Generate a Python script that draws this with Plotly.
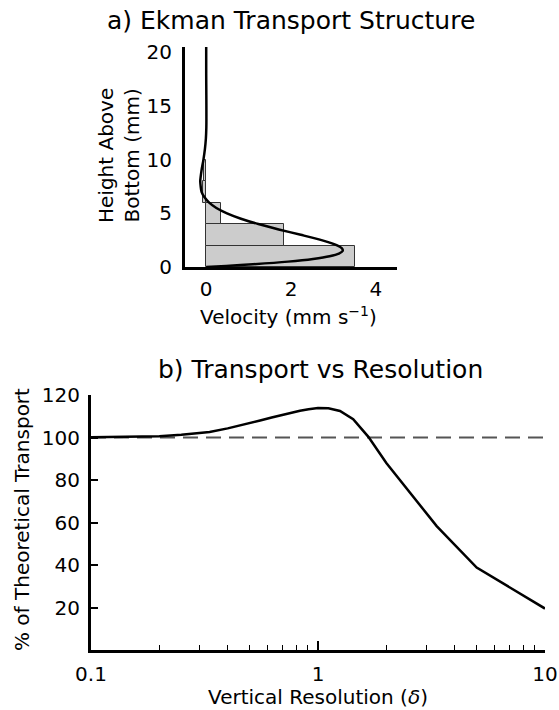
import plotly.graph_objects as go

W, H = 559, 710
FONT = "DejaVu Sans"

# ---- panel a: velocity profile and layer-averaged bars ----
layer_mid = [1, 3, 5, 7, 9]          # layer centres (mm)
layer_thick = 2                      # layer thickness (mm)
layer_vel = [3.5, 1.84, 0.35, -0.07, -0.05]   # mm/s

profile_z = [0, 0.1, 0.25, 0.5, 0.75, 1.0, 1.25, 1.5, 1.75, 2.0, 2.5, 3.0, 3.5, 4.0,
             4.5, 5.0, 5.5, 6.0, 6.5, 7.0, 7.5, 8.0, 9.0, 10.0, 11.0, 12.0, 13.0,
             14.0, 16.0, 18.0, 20.5]
profile_u = [0, 0.47, 1.10, 1.93, 2.52, 2.91, 3.13, 3.22, 3.20, 3.10, 2.72, 2.23, 1.71,
             1.23, 0.82, 0.49, 0.24, 0.07, -0.04, -0.11, -0.13, -0.14, -0.11, -0.065,
             -0.03, -0.007, 0.003, 0.005, 0.003, 0.0, 0.0]

# ---- panel b: transport vs resolution ----
res_delta = [0.1, 0.125, 0.1667, 0.2, 0.25, 0.333, 0.4, 0.5, 0.556, 0.625, 0.714,
             0.769, 0.833, 0.909, 1.0, 1.111, 1.25, 1.429, 1.667, 2.0, 2.5, 3.333,
             5.0, 10.0]
res_pct = [100.1, 100.2, 100.4, 100.6, 101.3, 102.6, 104.3, 106.6, 108.0, 109.4,
           110.9, 111.8, 112.6, 113.3, 113.9, 113.8, 112.5, 108.6, 100.3, 88.0,
           75.0, 58.3, 38.8, 19.5]
theory_pct = 100

a_yticks = [0, 5, 10, 15, 20]
a_xticks = [0, 2, 4]
b_yticks = [20, 40, 60, 80, 100, 120]
b_xticks = [0.1, 1, 10]
b_xticktext = ["0.1", "1", "10"]
b_xminor = [0.2, 0.3, 0.4, 0.5, 0.6, 0.7, 0.8, 0.9, 2, 3, 4, 5, 6, 7, 8, 9]


def px_x(p):
    return p / W


def px_y(p):
    return 1 - p / H


fig = go.Figure()

fig.add_trace(go.Bar(
    y=layer_mid, x=layer_vel, orientation="h", width=layer_thick,
    marker=dict(color="#cccccc", line=dict(color="#333333", width=1)),
    xaxis="x", yaxis="y", showlegend=False,
))
fig.add_trace(go.Scatter(
    x=profile_u, y=profile_z, mode="lines",
    line=dict(color="black", width=2.5, shape="spline", smoothing=0.8),
    xaxis="x", yaxis="y", showlegend=False,
))

fig.add_trace(go.Scatter(
    x=[b_xticks[0], b_xticks[-1]], y=[theory_pct, theory_pct], mode="lines",
    line=dict(color="#555555", width=1.8, dash="15px,8px"),
    xaxis="x2", yaxis="y2", showlegend=False,
))
fig.add_trace(go.Scatter(
    x=res_delta, y=res_pct, mode="lines",
    line=dict(color="black", width=2.5),
    xaxis="x2", yaxis="y2", showlegend=False,
))

axis_common = dict(showgrid=False, zeroline=False, showline=True, linecolor="black",
                   linewidth=3, tickfont=dict(family=FONT, size=20, color="black"))

fig.update_layout(
    width=W, height=H,
    margin=dict(l=0, r=0, t=0, b=0, autoexpand=False),
    paper_bgcolor="white", plot_bgcolor="white",
    font=dict(family=FONT, color="black"),
    bargap=0,
    xaxis=dict(domain=[px_x(185), px_x(397)], range=[-0.5, 4.5], anchor="y",
               tickvals=a_xticks, ticks="", ticklabelstandoff=2, **axis_common),
    yaxis=dict(domain=[px_y(267), px_y(47)], range=[0, 20.5], anchor="x",
               tickvals=a_yticks, ticks="", ticklabelstandoff=6, **axis_common),
    xaxis2=dict(domain=[px_x(91), px_x(545)], type="log", range=[-1, 1], anchor="y2",
                tickvals=b_xticks, ticktext=b_xticktext, ticks="inside", ticklen=9,
                tickwidth=1.5, tickcolor="black", ticklabelstandoff=4,
                minor=dict(tickvals=b_xminor, ticks="inside", ticklen=5, tickwidth=1,
                           tickcolor="black"),
                **axis_common),
    yaxis2=dict(domain=[px_y(650), px_y(395)], range=[0, 120], anchor="x2",
                tickvals=b_yticks, ticks="inside", ticklen=7, tickwidth=1.5,
                tickcolor="black", ticklabelstandoff=4, **axis_common),
)

ann = [
    dict(text="a) Ekman Transport Structure", x=px_x(291), y=px_y(21), size=25),
    dict(text="b) Transport vs Resolution", x=px_x(320), y=px_y(369), size=25),
    dict(text="Velocity (mm s<sup>−1</sup>)", x=px_x(289), y=px_y(316), size=20),
    dict(text="Vertical Resolution (<i>δ</i>)", x=px_x(318), y=px_y(697), size=20),
    dict(text="Height Above<br>Bottom (mm)", x=px_x(119), y=px_y(156), size=20, angle=-90),
    dict(text="% of Theoretical Transport", x=px_x(22), y=px_y(520), size=20, angle=-90),
]
for a in ann:
    fig.add_annotation(
        text=a["text"], x=a["x"], y=a["y"], xref="paper", yref="paper",
        xanchor="center", yanchor="middle", showarrow=False,
        textangle=a.get("angle", 0),
        font=dict(family=FONT, size=a["size"], color="black"),
    )

fig.write_html("out.html")
